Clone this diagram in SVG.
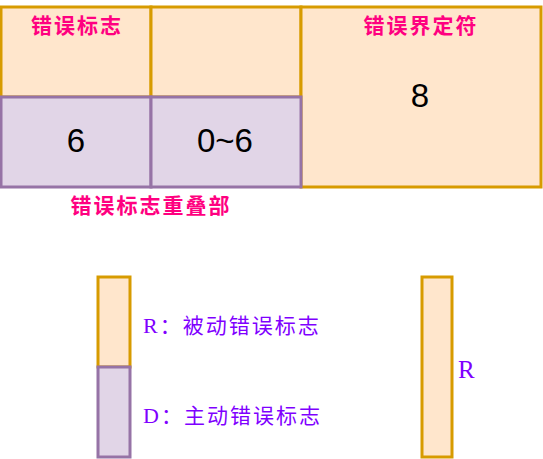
<svg xmlns="http://www.w3.org/2000/svg" width="543" height="459" viewBox="0 0 543 459">
<style>
.o{fill:#ffe6cc;stroke:#d79b00;stroke-width:3}
.p{fill:#e1d5e7;stroke:#9673a6;stroke-width:3}
.pk{font-family:"Noto Sans CJK SC","Noto Sans",sans-serif;font-size:21px;font-weight:bold;fill:#ff0080;letter-spacing:2px;text-anchor:middle}
.num{font-family:"Liberation Sans",Arial,sans-serif;font-size:33px;fill:#000;text-anchor:middle}
.pu{font-family:"Liberation Serif","Noto Sans CJK SC",serif;font-size:21px;fill:#7f00ff;letter-spacing:2px}
.lat{font-size:22px}
</style>
<rect width="543" height="459" fill="#fff"/>
<g id="flag-top1"><rect class="o" x="1" y="7" width="150" height="90"/><text class="pk" x="77" y="33">错误标志</text></g>
<g id="flag-top2"><rect class="o" x="151" y="7" width="150" height="90"/></g>
<g id="delimiter"><rect class="o" x="301" y="7" width="240" height="180"/><text class="pk" x="421" y="33">错误界定符</text><text class="num" x="420" y="107">8</text></g>
<g id="overlap1"><rect class="p" x="1" y="97" width="150" height="90"/><text class="num" x="76" y="152">6</text></g>
<g id="overlap2"><rect class="p" x="151" y="97" width="150" height="90"/><text class="num" x="225" y="152">0~6</text></g>
<g id="overlap-label"><text class="pk" x="151" y="213">错误标志重叠部</text></g>
<g id="legend-r"><rect class="o" x="98" y="277" width="32" height="90"/><text class="pu" x="143" y="333"><tspan class="lat">R</tspan>：被动错误标志</text></g>
<g id="legend-d"><rect class="p" x="98" y="367" width="32" height="90"/><text class="pu" x="143" y="423"><tspan class="lat">D</tspan>：主动错误标志</text></g>
<g id="r-bar"><rect class="o" x="422" y="277" width="30" height="180"/><text class="pu" x="458" y="378" style="font-size:25px">R</text></g>
<g id="connectors"/>
</svg>
